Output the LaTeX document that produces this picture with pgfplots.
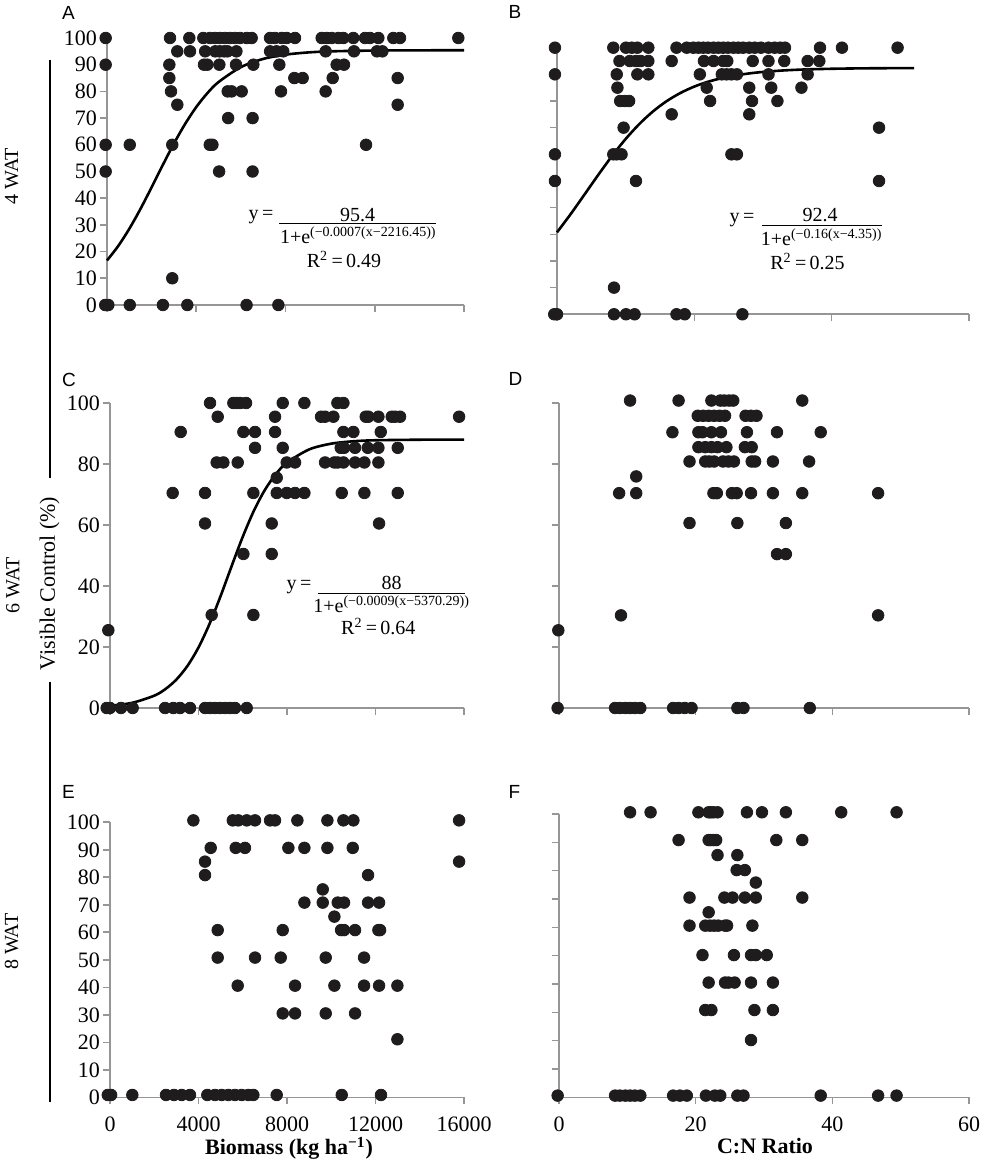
\documentclass[border=0pt]{standalone}
\usepackage{fontspec}
\setmainfont{Liberation Serif}
\newfontfamily\panelfont{Liberation Sans}
\usepackage{pgfplots}
\pgfplotsset{compat=1.18}
\definecolor{axgray}{RGB}{150,150,150}
\definecolor{dotc}{RGB}{30,28,28}
\pgfplotsset{
  panel/.style={scale only axis, axis lines=left,
    scaled x ticks=false, scaled y ticks=false,
    axis line style={-,draw=axgray,line width=0.8pt},
    tick style={draw=axgray,line width=0.8pt}, tick align=outside,
    major tick length=3.4pt, clip=false,
    tick label style={font=\fontsize{11}{12}\selectfont, text=black},
    yticklabel style={inner sep=1.5pt}, xticklabel style={inner sep=0pt, yshift=-6.3pt},
    anchor=south west},
  bio/.style={xmin=0,xmax=16000,xtick={0,4000,8000,12000,16000},ymin=0,ymax=100},
  cn/.style={xmin=0,xmax=60,xtick={0,20,40,60},ymin=0,ymax=100},
  dots/.style={only marks, mark=*, mark size=2.9pt, mark options={fill=dotc,draw=dotc}},
  fit/.style={no marks, smooth, line width=1.3pt, black},
}
\begin{document}
\begin{tikzpicture}
\useasboundingbox (0,0) rectangle (490pt,583.5pt);

% ---------------- A ----------------
\begin{axis}[panel,bio,at={(53.5pt,431pt)},width=178.5pt,height=133.5pt,
  ytick={0,10,...,100},yticklabels={0,10,20,30,40,50,60,70,80,90,100},xticklabels={}]
\addplot[dots] coordinates {
(-60,100)(2824,100)(3690,100)(4317,100)(4616,100)(4841,100)(5065,100)(5289,100)(5513,100)(5737,100)(5961,100)(6260,100)(6484,100)(7306,100)(7530,100)(7829,100)(8053,100)(8426,100)(9621,100)(9845,100)(10070,100)(10368,100)(10592,100)(11040,100)(11564,100)(11788,100)(12161,100)(12833,100)(13132,100)(15745,100)
(3150,95)(3720,95)(4400,95)(4850,95)(5050,95)(5250,95)(5400,95)(5800,95)(7310,95)(7600,95)(7900,95)(9800,95)(11070,95)(12100,95)(12340,95)
(-60,90)(2794,90)(4347,90)(4496,90)(5035,90)(5782,90)(6559,90)(7723,90)(10293,90)(10622,90)
(2794,85)(8396,85)(8770,85)(10115,85)(13028,85)
(2869,80)(5409,80)(5588,80)(6036,80)(7799,80)(9800,80)
(3152,75)(13028,75)
(5430,70)(6525,70)
(-60,60)(1020,60)(2925,60)(4605,60)(4725,60)(11610,60)
(-60,50)(5025,50)(6525,50)
(2925,10)
(-80,0)(60,0)(1020,0)(2505,0)(3600,0)(6255,0)(7680,0)
};
\addplot[fit] coordinates {(0,16.68)(500,22.06)(1000,28.54)(1500,35.98)(2000,44.09)(2500,52.42)(3000,60.46)(3500,67.79)(4000,74.13)(4500,79.35)(5000,83.50)(6000,89.09)(7000,92.16)(8000,93.76)(9000,94.58)(10000,94.99)(12000,95.30)(14000,95.38)(16000,95.40)};
\end{axis}

% ---------------- B ----------------
\begin{axis}[panel,cn,at={(278.5pt,426.35pt)},width=206pt,height=133.3pt,
  ytick={0,10,...,100},yticklabels={},xticklabels={}]
\addplot[dots] coordinates {
(-0.3,100)(8.2,100)(10.05,100)(10.9,100)(11.7,100)(13.3,100)(17.4,100)(18.9,100)(19.85,100)(20.6,100)(21.3,100)(22.0,100)(22.8,100)(23.5,100)(24.2,100)(24.9,100)(25.7,100)(26.4,100)(27.1,100)(28.0,100)(28.8,100)(29.7,100)(30.8,100)(31.7,100)(32.5,100)(33.2,100)(38.3,100)(41.5,100)(49.6,100)
(9.1,95)(10.6,95)(11.5,95)(12.2,95)(13.3,95)(16.7,95)(21.4,95)(22.8,95)(24.2,95)(24.8,95)(28.5,95)(30.8,95)(33.1,95)(36.5,95)(38.2,95)
(-0.3,90)(8.7,90)(11.7,90)(13.3,90)(20.8,90)(24.0,90)(24.7,90)(25.4,90)(26.2,90)(30.8,90)(36.5,90)
(8.8,85)(21.8,85)(28.0,85)(31.2,85)(35.6,85)
(9.2,80)(9.9,80)(10.5,80)(22.3,80)(28.4,80)(32.1,80)
(16.7,75)(28.0,75)
(9.7,70)(46.9,70)
(-0.3,60)(8.2,60)(8.7,60)(9.4,60)(25.4,60)(26.2,60)
(-0.3,50)(11.5,50)(46.9,50)
(8.3,10)
(-0.4,0)(0,0)(8.3,0)(10.05,0)(11.3,0)(17.4,0)(18.6,0)(27.0,0)
};
\addplot[fit] coordinates {(0,30.74)(2,37.62)(4,44.91)(6,52.26)(8,59.32)(10,65.77)(12,71.40)(14,76.14)(16,80.00)(18,83.05)(20,85.42)(22,87.22)(24,88.58)(26,89.59)(28,90.35)(30,90.90)(33,91.47)(36,91.82)(40,92.09)(45,92.26)(52,92.35)};
\end{axis}

% ---------------- C ----------------
\begin{axis}[panel,bio,at={(55pt,229.5pt)},width=177pt,height=152.5pt,
  ytick={0,20,...,100},yticklabels={0,20,40,60,80,100},xticklabels={}]
\addplot[dots] coordinates {
(4521,100)(5576,100)(5727,100)(5877,100)(6149,100)(7806,100)(8786,100)(10278,100)(10549,100)
(4868,95.5)(7460,95.5)(9539,95.5)(9720,95.5)(10097,95.5)(11559,95.5)(11679,95.5)(12131,95.5)(12734,95.5)(12885,95.5)(13111,95.5)(15778,95.5)
(3195,90.5)(6028,90.5)(6555,90.5)(7460,90.5)(10549,90.5)(11001,90.5)(12237,90.5)
(6555,85.3)(7806,85.3)(10428,85.3)(10579,85.3)(11076,85.3)(11649,85.3)(12131,85.3)(13005,85.3)
(4822,80.5)(5124,80.5)(5772,80.5)(7987,80.5)(8364,80.5)(9720,80.5)(10142,80.5)(10293,80.5)(10549,80.5)(11076,80.5)(11498,80.5)(12131,80.5)
(7535,75.5)
(2833,70.5)(4295,70.5)(6480,70.5)(7535,70.5)(7987,70.5)(8364,70.5)(8786,70.5)(10474,70.5)(11498,70.5)(13005,70.5)
(4295,60.5)(7309,60.5)(12161,60.5)
(6028,50.5)(7309,50.5)
(4596,30.5)(6480,30.5)
(-75,25.5)
(-150,0)(0,0)(497,0)(1025,0)(2487,0)(2863,0)(3165,0)(3617,0)(4295,0)(4521,0)(4747,0)(4973,0)(5199,0)(5425,0)(5651,0)(6179,0)
};
\addplot[fit] coordinates {(0,0.70)(1000,1.69)(2000,4.04)(2500,6.18)(3000,9.32)(3500,13.79)(4000,19.85)(4500,27.60)(5000,36.73)(5500,46.57)(6000,56.14)(6500,64.62)(7000,71.50)(7500,76.72)(8000,80.45)(9000,84.77)(10000,86.66)(11000,87.45)(12000,87.78)(14000,87.96)(16000,88.00)};
\end{axis}

% ---------------- D ----------------
\begin{axis}[panel,cn,at={(279.5pt,229.5pt)},width=205pt,height=152.35pt,
  ytick={0,20,...,100},yticklabels={},xticklabels={}]
\addplot[dots] coordinates {
(10.4,100.9)(17.5,100.9)(22.3,100.9)(23.6,100.9)(24.2,100.9)(24.9,100.9)(25.5,100.9)(35.6,100.9)
(20.3,95.9)(21.1,95.9)(21.9,95.9)(22.7,95.9)(23.5,95.9)(24.3,95.9)(27.3,95.9)(28.1,95.9)(28.9,95.9)
(16.6,90.5)(20.4,90.5)(21.0,90.5)(22.3,90.5)(23.7,90.5)(27.5,90.5)(31.9,90.5)(38.3,90.5)
(20.4,85.6)(21.4,85.6)(22.3,85.6)(23.2,85.6)(24.5,85.6)(27.2,85.6)(28.2,85.6)
(19.1,80.9)(21.4,80.9)(22.0,80.9)(22.7,80.9)(24.0,80.9)(24.8,80.9)(25.6,80.9)(28.2,80.9)(28.7,80.9)(31.3,80.9)(36.6,80.9)
(11.3,76)
(8.8,70.5)(11.3,70.5)(22.6,70.5)(23.1,70.5)(25.3,70.5)(26.0,70.5)(28.1,70.5)(31.3,70.5)(35.6,70.5)(46.7,70.5)
(19.1,60.7)(26.1,60.7)(33.2,60.7)
(31.9,50.5)(33.2,50.5)
(9.07,30.4)(46.7,30.4)
(-0.1,25.5)
(-0.2,0)(8.2,0)(8.9,0)(9.7,0)(10.4,0)(11.1,0)(11.9,0)(16.7,0)(17.5,0)(18.4,0)(19.4,0)(26.1,0)(27.0,0)(36.7,0)
};
\end{axis}

% ---------------- E ----------------
\begin{axis}[panel,bio,at={(55pt,34.85pt)},width=177pt,height=137.5pt,
  ytick={0,10,...,100},yticklabels={0,10,20,30,40,50,60,70,80,90,100},
  xticklabels={0,4000,8000,12000,16000}]
\addplot[dots] coordinates {
(3768,100.7)(5550,100.7)(5800,100.7)(6179,100.7)(6555,100.7)(7234,100.7)(7460,100.7)(8469,100.7)(9826,100.7)(10549,100.7)(11001,100.7)(15778,100.7)
(4551,90.7)(5681,90.7)(6100,90.7)(8062,90.7)(8786,90.7)(9826,90.7)(10971,90.7)
(4295,85.7)(15778,85.7)
(4295,80.8)(11664,80.8)
(9615,75.6)
(8786,70.8)(9615,70.8)(10293,70.8)(10579,70.8)(11664,70.8)(12161,70.8)
(10142,65.7)
(4868,60.8)(7806,60.8)(10444,60.8)(10579,60.8)(11076,60.8)(12131,60.8)(12207,60.8)
(4868,50.8)(6555,50.8)(7716,50.8)(9750,50.8)(11483,50.8)
(5772,40.6)(8364,40.6)(10142,40.6)(11483,40.6)(12161,40.6)(12990,40.6)
(7806,30.5)(8364,30.5)(9750,30.5)(11076,30.5)
(12990,21.1)
(-100,0.85)(50,0.85)(1009,0.85)(2531,0.85)(2893,0.85)(3240,0.85)(3616,0.85)(4399,0.85)(4746,0.85)(5048,0.85)(5349,0.85)(5650,0.85)(5952,0.85)(6253,0.85)(6479,0.85)(7534,0.85)(10473,0.85)(12249,0.85)
};
\end{axis}

% ---------------- F ----------------
\begin{axis}[panel,cn,at={(279.5pt,34.85pt)},width=205pt,height=141.65pt,
  ytick={0,10,...,100},yticklabels={},xticklabels={0,20,40,60}]
\addplot[dots] coordinates {
(10.4,100.6)(13.4,100.6)(20.4,100.6)(21.9,100.6)(22.2,100.6)(22.6,100.6)(23.2,100.6)(27.5,100.6)(29.7,100.6)(33.2,100.6)(41.3,100.6)(49.4,100.6)
(17.5,90.8)(21.9,90.8)(22.2,90.8)(22.6,90.8)(23.0,90.8)(31.8,90.8)(35.6,90.8)
(23.2,85.5)(26.1,85.5)
(26.0,80.2)(27.2,80.2)
(28.8,75.8)
(19.1,70.5)(24.2,70.5)(25.4,70.5)(27.2,70.5)(28.8,70.5)(35.6,70.5)
(21.9,65.3)
(19.1,60.6)(21.4,60.6)(22.1,60.6)(22.7,60.6)(23.3,60.6)(24.3,60.6)(24.6,60.6)(28.3,60.6)
(21.0,50.2)(25.6,50.2)(28.1,50.2)(28.8,50.2)(30.4,50.2)
(21.9,40.5)(24.3,40.5)(24.8,40.5)(25.7,40.5)(28.1,40.5)(31.3,40.5)
(21.4,30.8)(22.3,30.8)(28.6,30.8)(31.3,30.8)
(28.1,20.2)
(-0.2,0.6)(8.2,0.6)(8.9,0.6)(9.7,0.6)(10.4,0.6)(11.1,0.6)(11.9,0.6)(16.7,0.6)(17.7,0.6)(18.7,0.6)(21.5,0.6)(22.8,0.6)(23.6,0.6)(26.1,0.6)(27.0,0.6)(38.3,0.6)(46.7,0.6)(49.4,0.6)
};
\end{axis}

% ---------------- texts (image pixel coordinates) ----------------
\begin{scope}[x=0.5pt,y=-0.5pt,shift={(0pt,583.5pt)}]
\tikzset{lab/.style={font=\panelfont\fontsize{9.5}{11}\selectfont,anchor=base west,inner sep=0pt},
         eq/.style={font=\fontsize{10}{12}\selectfont,anchor=base,inner sep=0pt}}
\node[lab] at (61.7,20) {A};
\node[lab] at (508.3,18.5) {B};
\node[lab] at (61.7,386.7) {C};
\node[lab] at (508.3,386) {D};
\node[lab] at (61.7,799) {E};
\node[lab] at (508.3,799) {F};

% equation A
\node[eq] at (261,220) {y\,=};
\draw[line width=0.55pt] (279,223.5) -- (436,223.5);
\node[eq] at (357.5,221.5) {95.4};
\node[eq] at (358.3,243.5) {1+e\textsuperscript{(−0.0007(x−2216.45))}};
\node[eq] at (344,268) {R\textsuperscript{2}\,=\,0.49};
% equation B
\node[eq] at (742,223) {y\,=};
\draw[line width=0.55pt] (762,225.7) -- (882,225.7);
\node[eq] at (820,222) {92.4};
\node[eq] at (821.7,246) {1+e\textsuperscript{(−0.16(x−4.35))}};
\node[eq] at (807.5,269.5) {R\textsuperscript{2}\,=\,0.25};
% equation C
\node[eq] at (299,590) {y\,=};
\draw[line width=0.55pt] (318.3,593.3) -- (465,593.3);
\node[eq] at (391.7,590) {88};
\node[eq] at (391.7,612.5) {1+e\textsuperscript{(−0.0009(x−5370.29))}};
\node[eq] at (378.3,635) {R\textsuperscript{2}\,=\,0.64};

% axis titles
\node[anchor=base,inner sep=0pt,font=\bfseries\fontsize{11}{13}\selectfont] at (289,1155) {Biomass (kg ha\textsuperscript{−1})};
\node[anchor=base,inner sep=0pt,font=\bfseries\fontsize{11}{13}\selectfont] at (765,1154) {C:N Ratio};

% left labels
\node[rotate=90,font=\fontsize{10}{12}\selectfont,inner sep=0pt] at (11.7,176) {4 WAT};
\node[rotate=90,font=\fontsize{10}{12}\selectfont,inner sep=0pt] at (13,585) {6 WAT};
\node[rotate=90,font=\fontsize{10}{12}\selectfont,inner sep=0pt] at (11.7,941.7) {8 WAT};
\node[rotate=90,font=\fontsize{11}{13}\selectfont,inner sep=0pt] at (49.5,583.5) {Visible Control (\%)};
\draw[line width=0.8pt] (50,60) -- (50,478);
\draw[line width=0.8pt] (50,682) -- (50,1102);
\end{scope}
\end{tikzpicture}
\end{document}
